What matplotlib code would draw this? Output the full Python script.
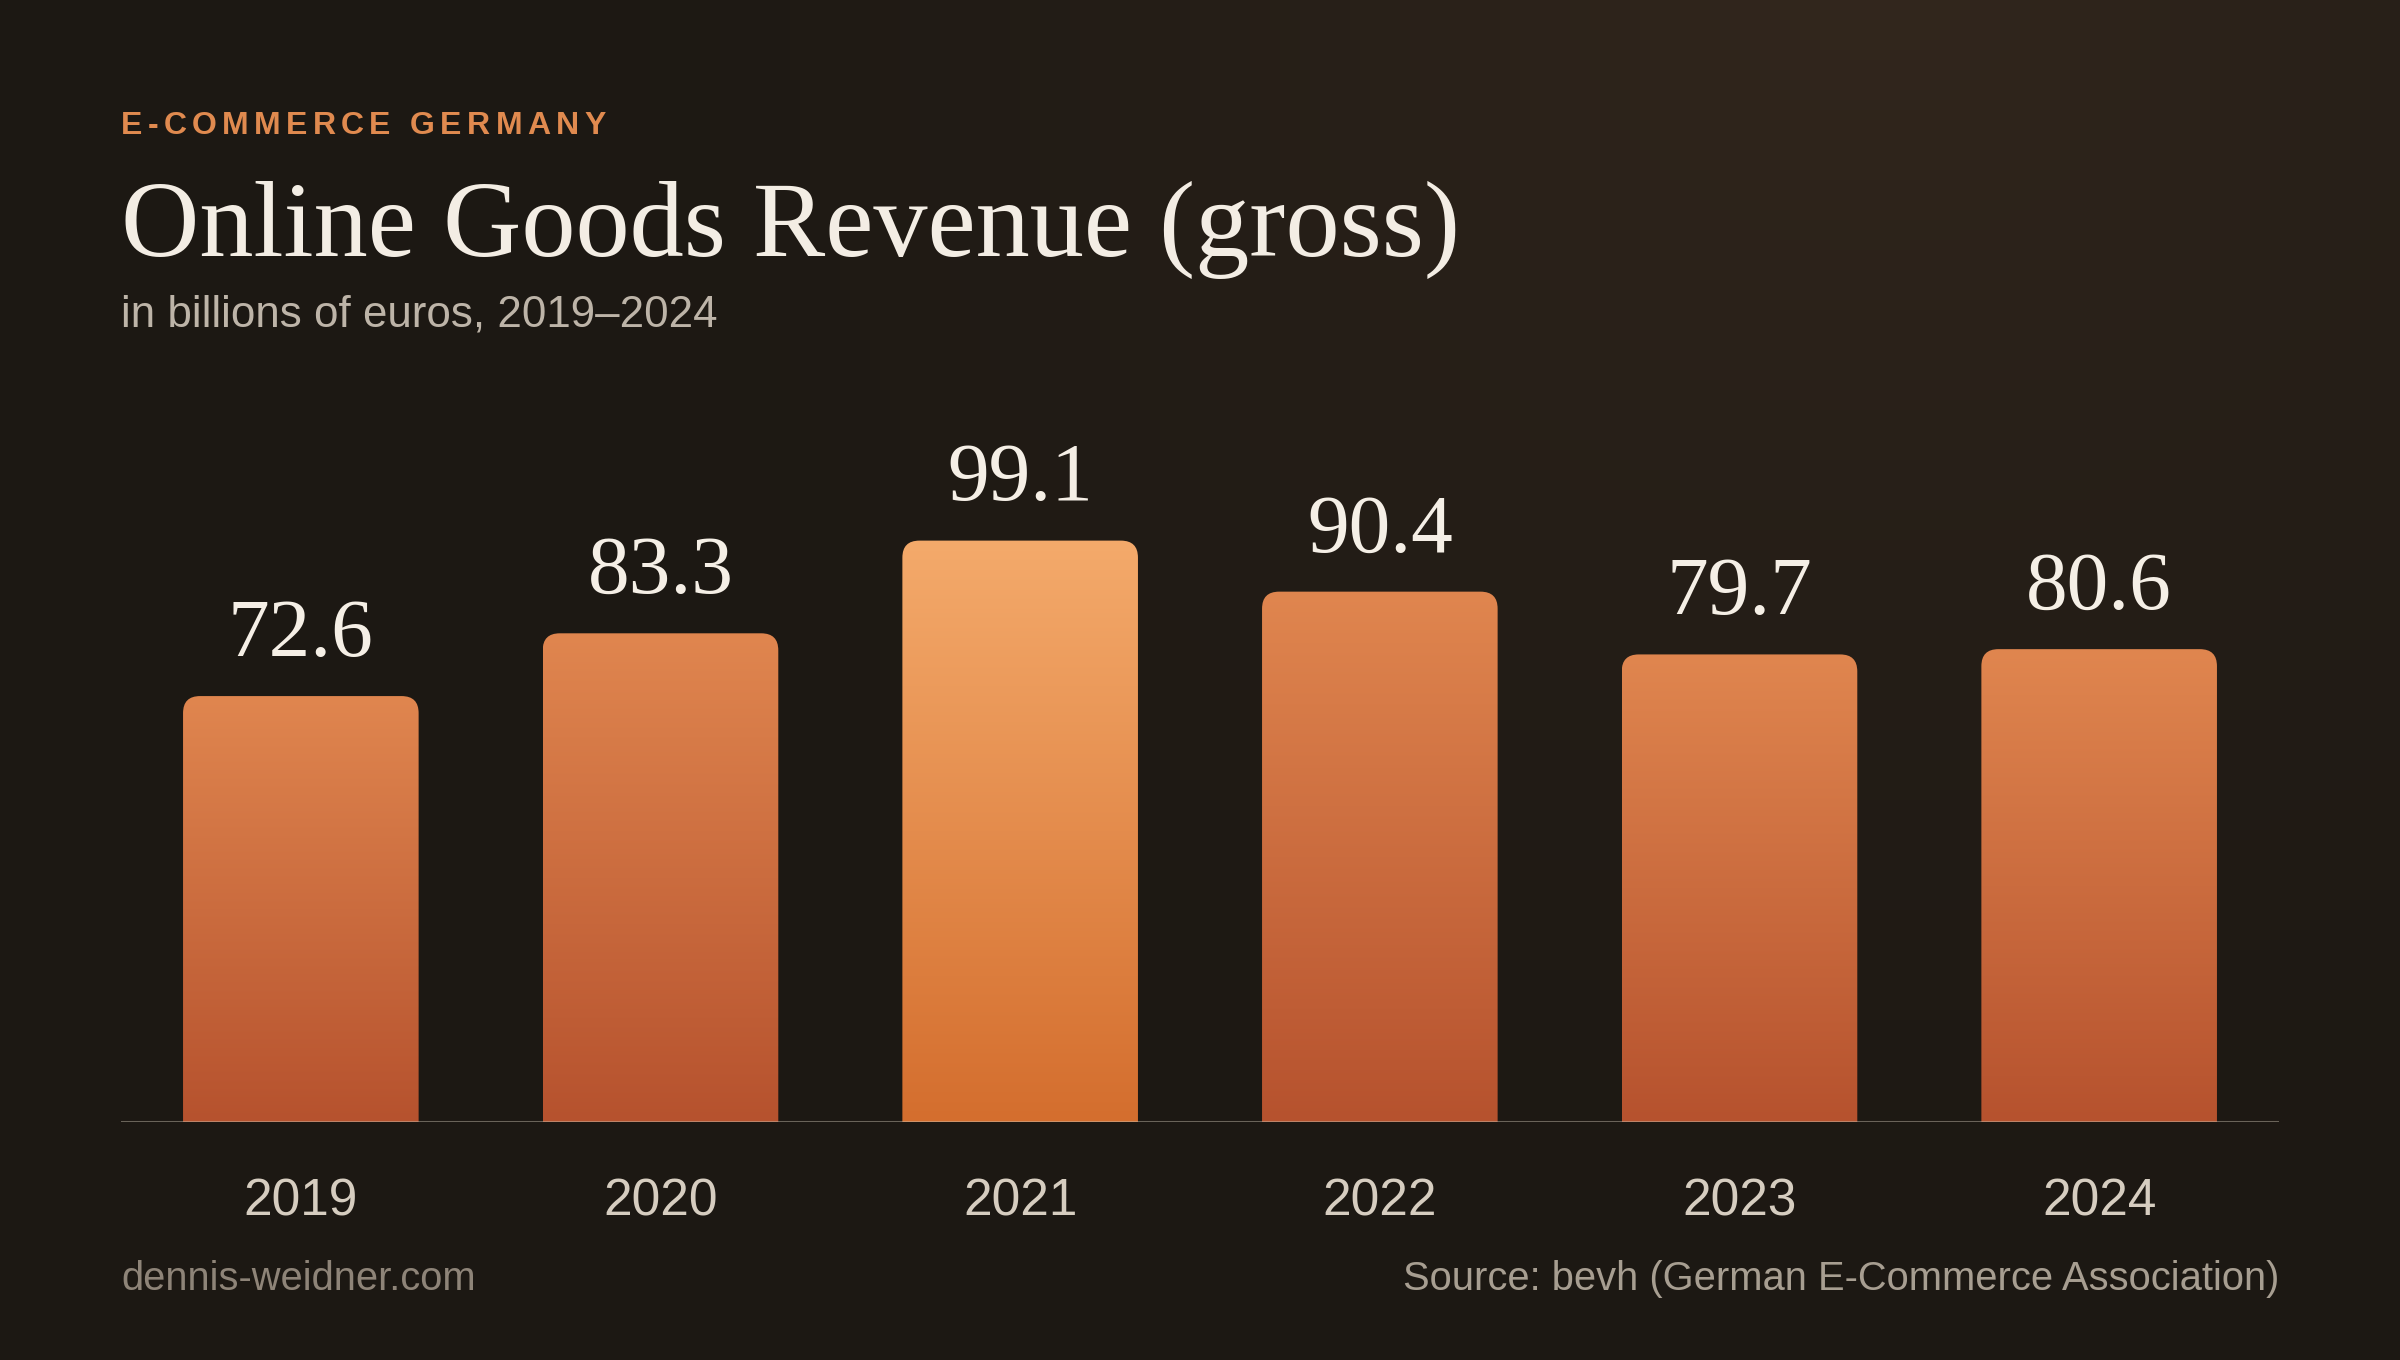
import numpy as np
import matplotlib
matplotlib.use("Agg")
import matplotlib.pyplot as plt
from matplotlib.colors import LinearSegmentedColormap, to_rgb
from matplotlib.patches import FancyBboxPatch

years = ["2019", "2020", "2021", "2022", "2023", "2024"]
revenue = [72.6, 83.3, 99.1, 90.4, 79.7, 80.6]
highlight_year = "2021"

kicker = "E-COMMERCE GERMANY"
title = "Online Goods Revenue (gross)"
subtitle = "in billions of euros, 2019\u20132024"
footer_left = "dennis-weidner.com"
footer_right = "Source: bevh (German E-Commerce Association)"

W, H = 2400, 1360
SANS = "Liberation Sans"
SERIF = "Liberation Serif"

fig = plt.figure(figsize=(W / 100, H / 100), dpi=100)

# background: dark with a warm glow in the top right
bg = fig.add_axes([0, 0, 1, 1], zorder=-10)
bg.axis("off")
ny, nx = 136, 240
yy, xx = np.mgrid[0:1:ny * 1j, 0:1:nx * 1j]
d = np.sqrt(((xx - 0.78) * W / H) ** 2 + (yy + 0.05) ** 2)
t = np.clip(1 - d / 1.1, 0, 1) ** 1.6
base = np.array(to_rgb("#1c1813"))
glow = np.array(to_rgb("#34281e"))
img = base + (glow - base) * t[..., None]
bg.imshow(img, extent=[0, 1, 0, 1], aspect="auto", origin="upper")
bg.set_xlim(0, 1)
bg.set_ylim(0, 1)

# chart axes
ax_l, ax_r, ax_base, ax_top = 121, 2279, 1122, 418
ax = fig.add_axes([ax_l / W, 1 - ax_base / H, (ax_r - ax_l) / W, (ax_base - ax_top) / H])
ax.patch.set_alpha(0)
x = np.arange(len(years))
xlim = (-0.5, 5.5)
ylim = (0, 120)

bars = ax.bar(x, revenue, width=0.655, color="none", edgecolor="none")

x_per_px = (xlim[1] - xlim[0]) / (ax_r - ax_l)
y_per_px = (ylim[1] - ylim[0]) / (ax_base - ax_top)
r_px = 17
rx, ry = r_px * x_per_px, r_px * y_per_px

cmap_norm = LinearSegmentedColormap.from_list("n", ["#b6522e", "#e0864f"])
cmap_hi = LinearSegmentedColormap.from_list("h", ["#d46e2e", "#f4aa6b"])
grad = np.linspace(0, 1, 256).reshape(-1, 1)

for yr, b in zip(years, bars):
    x0, w, h = b.get_x(), b.get_width(), b.get_height()
    shape = FancyBboxPatch((x0, -3 * ry), w, h + 3 * ry,
                           boxstyle=f"round,pad=0,rounding_size={rx}",
                           mutation_aspect=ry / rx, transform=ax.transData,
                           facecolor="none", edgecolor="none")
    cm = cmap_hi if yr == highlight_year else cmap_norm
    im = ax.imshow(grad, extent=[x0, x0 + w, 0, h], origin="lower",
                   cmap=cm, aspect="auto", zorder=2)
    im.set_clip_path(shape)
    ax.annotate(f"{h:.1f}", (b.get_x() + w / 2, h), xytext=(0, 29),
                textcoords="offset points", ha="center", va="baseline",
                fontsize=60, family=SERIF, color="#f5efe6")

ax.axhline(0, color="#c9bfb0", alpha=0.45, lw=2.2, zorder=3)
ax.set_xlim(*xlim)
ax.set_ylim(*ylim)
ax.set_xticks(x, years)
ax.set_yticks([])
ax.tick_params(axis="x", length=0, pad=40, labelsize=37, labelcolor="#d6cdc0")
for lab in ax.get_xticklabels():
    lab.set_family(SANS)
for s in ax.spines.values():
    s.set_visible(False)

# kicker with letter spacing
renderer = fig.canvas.get_renderer()
cx = ax_l
track = 5.3
ksize = 23
for ch in kicker:
    if ch == " ":
        cx += 0.278 * ksize * 100 / 72 + track
        continue
    tx = fig.text(cx / W, 1 - 134 / H, ch, fontsize=ksize, fontweight="bold",
                  family=SANS, color="#e08a4f", va="baseline", ha="left")
    cx += tx.get_window_extent(renderer).width + track

fig.text(ax_l / W, 1 - 256 / H, title, fontsize=78, family=SERIF,
         color="#f3ede4", va="baseline", ha="left")
fig.text(ax_l / W, 1 - 327 / H, subtitle, fontsize=31.6, family=SANS,
         color="#bdb4a8", va="baseline", ha="left")
fig.text(ax_l / W, 1 - 1290 / H, footer_left, fontsize=28.7, family=SANS,
         color="#8e8478", va="baseline", ha="left")
fig.text(ax_r / W, 1 - 1290 / H, footer_right, fontsize=28.7, family=SANS,
         color="#a79e91", va="baseline", ha="right")

fig.savefig("out.png", dpi=100)
